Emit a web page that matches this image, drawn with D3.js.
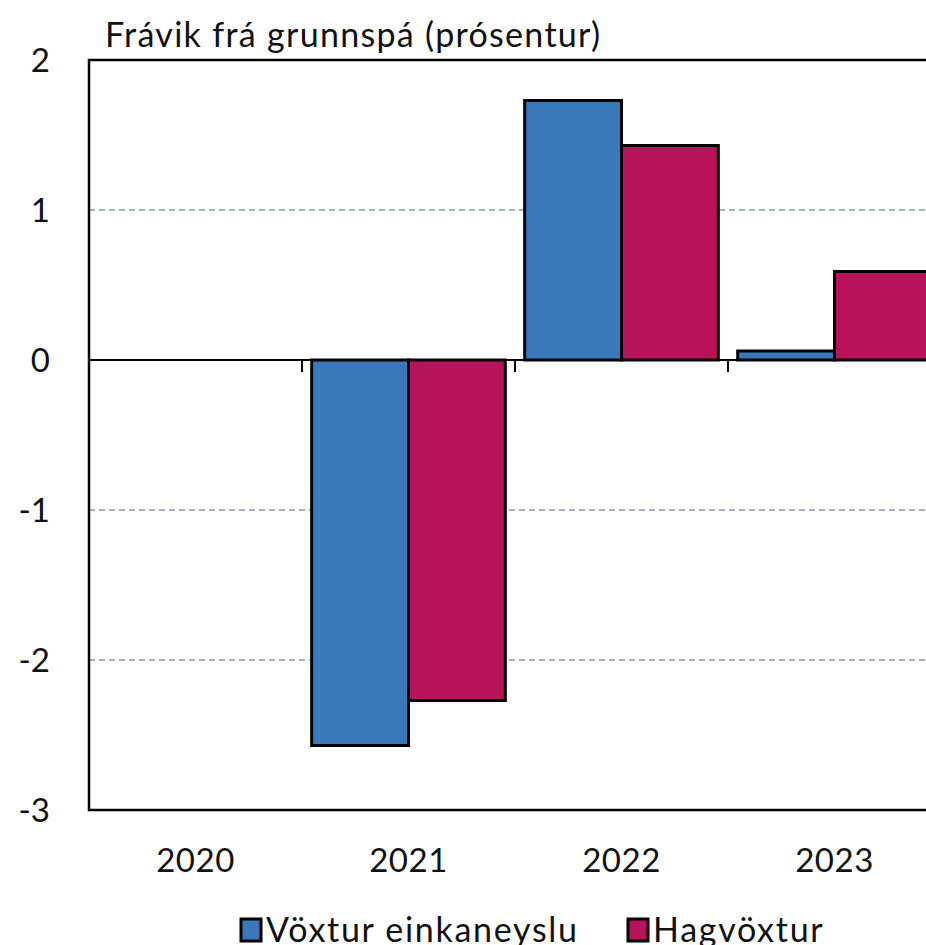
<!DOCTYPE html>
<html>
<head>
<meta charset="utf-8">
<script src="https://cdn.jsdelivr.net/npm/d3@7"></script>
<style>
  body { margin: 0; background: #fff; }
  svg text { font-family: Lato, "Open Sans", sans-serif; fill: #111; }
</style>
</head>
<body>
<svg id="chart" width="926" height="945"></svg>
<script>
// Frávik frá grunnspá
const years = ["2020", "2021", "2022", "2023"];
const seriesNames = ["Vöxtur einkaneyslu", "Hagvöxtur"];
const einkaneysla = [0.0, -2.57, 1.73, 0.06];
const hagvoxtur = [0.0, -2.27, 1.43, 0.59];
const yTicks = [2, 1, 0, -1, -2, -3];
const colors = ["#3878bb", "#b8135a"];

const svg = d3.select("#chart");
const plotLeft = 89, plotTop = 60, plotBottom = 810, plotRight = 941;

const x = d3.scaleBand().domain(years).range([plotLeft, plotRight]).paddingInner(0).paddingOuter(0);
const x1 = d3.scaleBand().domain([0, 1]).range([0, x.bandwidth()]).paddingOuter(0.1);
const y = d3.scaleLinear().domain([-3, 2]).range([plotBottom, plotTop]);

// gridlines
svg.append("g")
  .selectAll("line")
  .data(yTicks.filter((d) => d !== 0 && d !== 2 && d !== -3))
  .join("line")
  .attr("x1", plotLeft).attr("x2", plotRight)
  .attr("y1", (d) => y(d)).attr("y2", (d) => y(d))
  .attr("stroke", "#3f6796")
  .attr("stroke-width", 1)
  .attr("stroke-dasharray", "6,4");

// bars
const data = years.map((yr, i) => ({ yr, vals: [einkaneysla[i], hagvoxtur[i]] }));
svg.append("g")
  .selectAll("g")
  .data(data)
  .join("g")
  .attr("transform", (d) => `translate(${x(d.yr)},0)`)
  .selectAll("rect")
  .data((d) => d.vals.map((v, k) => ({ v, k })))
  .join("rect")
  .attr("x", (d) => x1(d.k))
  .attr("width", x1.bandwidth())
  .attr("y", (d) => y(Math.max(0, d.v)))
  .attr("height", (d) => Math.abs(y(d.v) - y(0)))
  .attr("fill", (d) => colors[d.k])
  .attr("stroke", "#000")
  .attr("stroke-width", 3);

// zero axis with ticks at category boundaries
const zero = svg.append("g").attr("transform", `translate(0,${y(0)})`);
zero.append("line")
  .attr("x1", plotLeft).attr("x2", plotRight)
  .attr("stroke", "#000").attr("stroke-width", 2);
zero.selectAll("line.tick")
  .data(years.slice(1))
  .join("line")
  .attr("class", "tick")
  .attr("x1", (d) => x(d)).attr("x2", (d) => x(d))
  .attr("y1", 0).attr("y2", 12)
  .attr("stroke", "#000").attr("stroke-width", 2);

// frame
svg.append("path")
  .attr("d", `M${plotRight},${plotTop}H${plotLeft}V${plotBottom}H${plotRight}`)
  .attr("fill", "none")
  .attr("stroke", "#000")
  .attr("stroke-width", 2.5);

// y labels
svg.append("g")
  .selectAll("text")
  .data(yTicks)
  .join("text")
  .attr("x", 50)
  .attr("y", (d) => y(d))
  .attr("dy", "0.36em")
  .attr("text-anchor", "end")
  .attr("font-size", 33)
  .text((d) => d);

// x labels
svg.append("g")
  .selectAll("text")
  .data(years)
  .join("text")
  .attr("x", (d) => x(d) + x.bandwidth() / 2)
  .attr("y", 872)
  .attr("text-anchor", "middle")
  .attr("font-size", 33)
  .attr("letter-spacing", 0.5)
  .text((d) => d);

// title
svg.append("text")
  .attr("x", 105)
  .attr("y", 47)
  .attr("font-size", 34)
  .attr("letter-spacing", 1.3)
  .text("Frávik frá grunnspá (prósentur)");

// legend
const legendX = [241, 628];
const legend = svg.append("g")
  .selectAll("g")
  .data(seriesNames)
  .join("g")
  .attr("transform", (d, i) => `translate(${legendX[i]},919)`);
legend.append("rect")
  .attr("width", 20).attr("height", 22)
  .attr("fill", (d, i) => colors[i])
  .attr("stroke", "#000").attr("stroke-width", 3);
legend.append("text")
  .attr("x", 25).attr("y", 23)
  .attr("font-size", 34)
  .attr("letter-spacing", 1.7)
  .text((d) => d);
</script>
</body>
</html>
